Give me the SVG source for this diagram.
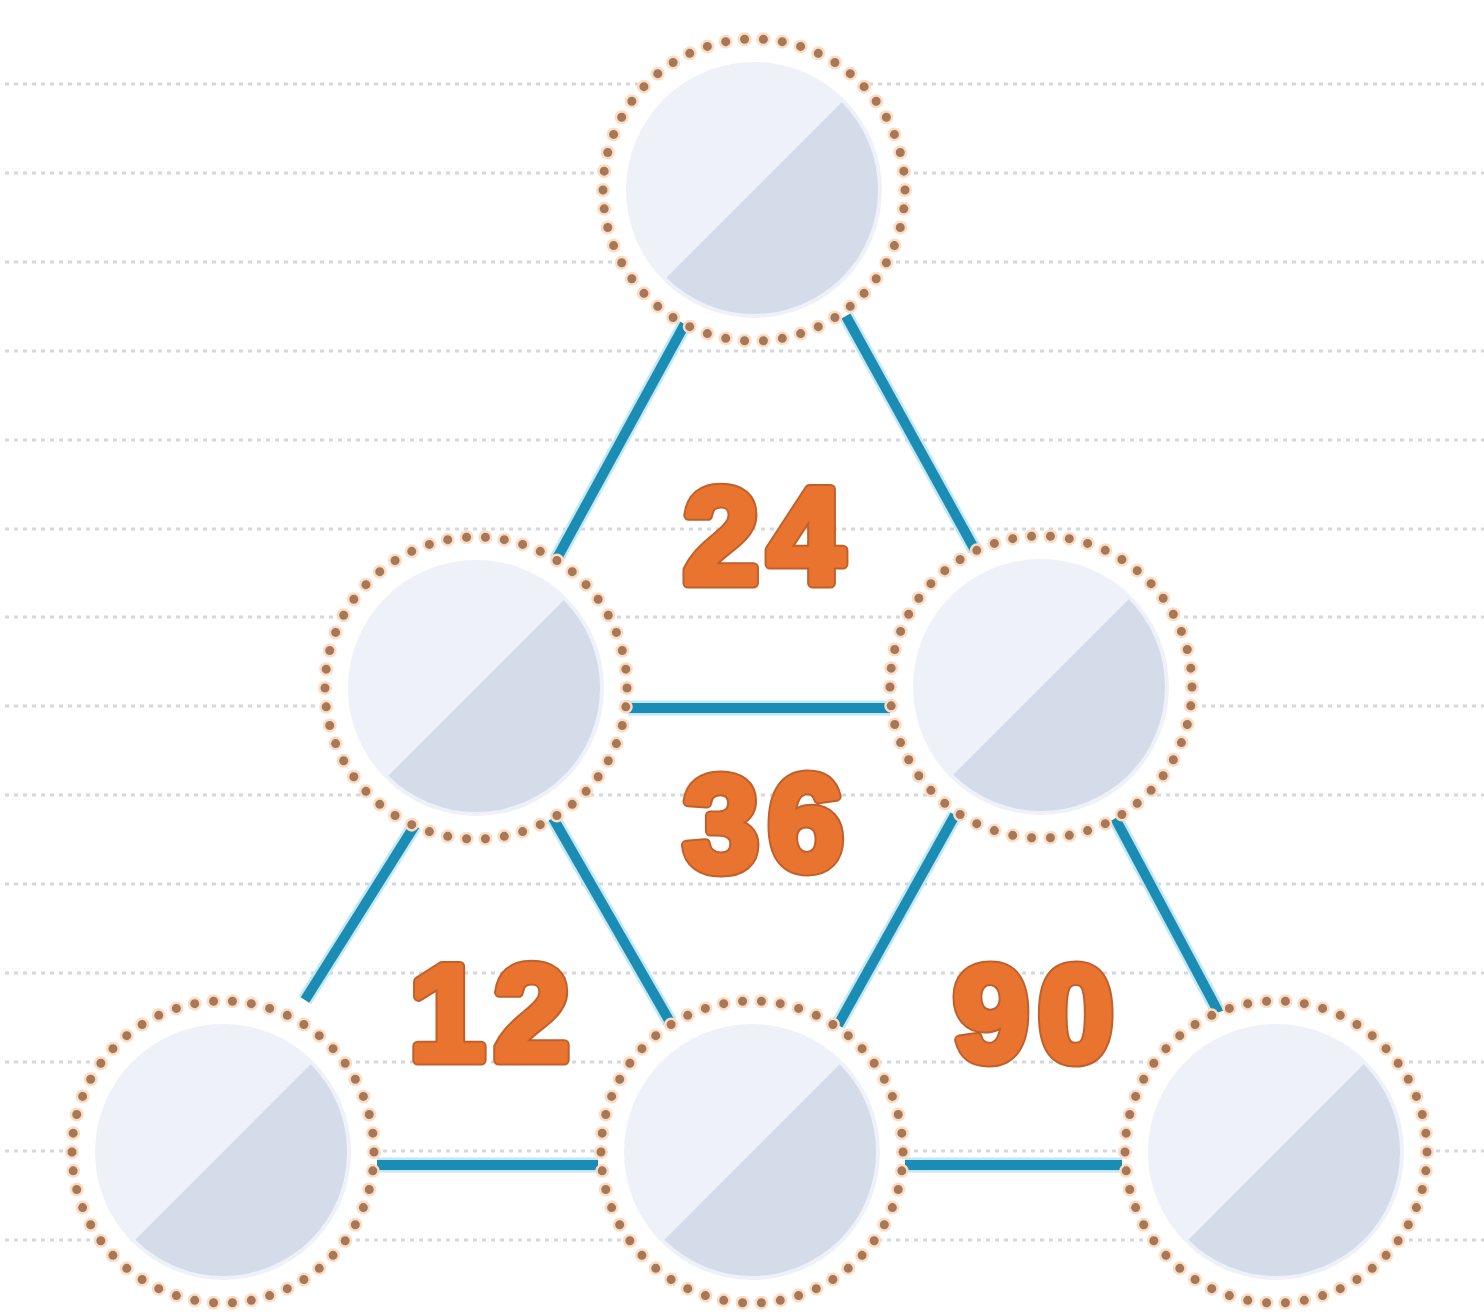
<svg xmlns="http://www.w3.org/2000/svg" width="1484" height="1316" viewBox="0 0 1484 1316">
<style>
.bg{stroke:#d4d8dc;stroke-width:3;stroke-dasharray:4 5;fill:none}
.halo{stroke:#c4e8f3;stroke-width:15;stroke-linecap:butt;fill:none}
.conn{stroke:#1b8cb3;stroke-width:10;stroke-linecap:butt;fill:none}
.num{font-family:"Liberation Sans",Arial,sans-serif;font-weight:bold;text-anchor:middle;font-size:136px;letter-spacing:9px;stroke-linejoin:round}
.num-edge{fill:#c2602b;stroke:#c2602b;stroke-width:11}
.num-face{fill:#e8742f;stroke:#e8742f;stroke-width:7}
</style>
<defs>
<g id="node">
<circle r="151" fill="#ffffff"/>
<circle r="128" fill="#eef2f8"/>
<path d="M -87.7 87.7 A 124 124 0 0 0 87.7 -87.7 Z" fill="#d4dcea"/>
<circle r="151" fill="none" stroke="#fddcc2" stroke-width="14" stroke-linecap="round" pathLength="50" stroke-dasharray="0 1"/>
<circle r="151" fill="none" stroke="#a5785a" stroke-width="9" stroke-linecap="round" pathLength="50" stroke-dasharray="0 1"/>
</g>
</defs>
<rect width="1484" height="1316" fill="#ffffff"/>
<g id="background">
<line class="bg" x1="5" y1="84" x2="1484" y2="84"/>
<line class="bg" x1="5" y1="173" x2="1484" y2="173"/>
<line class="bg" x1="5" y1="262" x2="1484" y2="262"/>
<line class="bg" x1="5" y1="351" x2="1484" y2="351"/>
<line class="bg" x1="5" y1="440" x2="1484" y2="440"/>
<line class="bg" x1="5" y1="529" x2="1484" y2="529"/>
<line class="bg" x1="5" y1="617" x2="1484" y2="617"/>
<line class="bg" x1="5" y1="706" x2="1484" y2="706"/>
<line class="bg" x1="5" y1="795" x2="1484" y2="795"/>
<line class="bg" x1="5" y1="884" x2="1484" y2="884"/>
<line class="bg" x1="5" y1="973" x2="1484" y2="973"/>
<line class="bg" x1="5" y1="1062" x2="1484" y2="1062"/>
<line class="bg" x1="5" y1="1151" x2="1484" y2="1151"/>
<line class="bg" x1="5" y1="1240" x2="1484" y2="1240"/>
</g>
<g id="connectors">
<g class="halo">
<line x1="686" y1="322" x2="556" y2="560"/>
<line x1="846" y1="316" x2="975" y2="550"/>
<line x1="628" y1="708" x2="890" y2="708"/>
<line x1="415" y1="825" x2="305" y2="1000"/>
<line x1="553" y1="818" x2="670" y2="1022"/>
<line x1="955" y1="815" x2="838" y2="1025"/>
<line x1="1115" y1="818" x2="1220" y2="1015"/>
<line x1="377" y1="1165" x2="598" y2="1165"/>
<line x1="905" y1="1165" x2="1122" y2="1165"/>
</g>
<g class="conn">
<line x1="686" y1="322" x2="556" y2="560"/>
<line x1="846" y1="316" x2="975" y2="550"/>
<line x1="628" y1="708" x2="890" y2="708"/>
<line x1="415" y1="825" x2="305" y2="1000"/>
<line x1="553" y1="818" x2="670" y2="1022"/>
<line x1="955" y1="815" x2="838" y2="1025"/>
<line x1="1115" y1="818" x2="1220" y2="1015"/>
<line x1="377" y1="1165" x2="598" y2="1165"/>
<line x1="905" y1="1165" x2="1122" y2="1165"/>
</g>
</g>
<g id="node-top"><use href="#node" x="754" y="190"/></g>
<g id="node-mid-left"><use href="#node" x="476" y="688"/></g>
<g id="node-mid-right"><use href="#node" x="1041" y="687"/></g>
<g id="node-bottom-left"><use href="#node" x="223" y="1152"/></g>
<g id="node-bottom-mid"><use href="#node" x="752" y="1152"/></g>
<g id="node-bottom-right"><use href="#node" x="1276" y="1152"/></g>
<g id="numbers">
<g class="num num-edge">
<text x="768" y="583">24</text>
<text x="768" y="870">36</text>
<text x="494" y="1060">12</text>
<text x="1038" y="1061">90</text>
</g>
<g class="num num-face">
<text x="768" y="583">24</text>
<text x="768" y="870">36</text>
<text x="494" y="1060">12</text>
<text x="1038" y="1061">90</text>
</g>
</g>
</svg>
